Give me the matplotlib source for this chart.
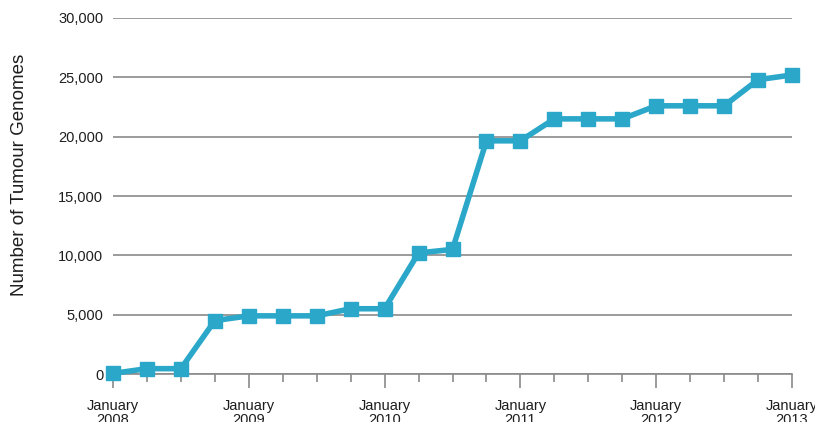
import matplotlib
matplotlib.use("Agg")
import matplotlib.pyplot as plt
import numpy as np

# quarterly counts of tumour genomes, Jan 2008 - Jan 2013
quarters = [2008 + i * 0.25 for i in range(21)]
genomes = [50, 450, 450, 4500, 4900, 4900, 4900, 5500, 5500, 10200, 10500,
           19650, 19650, 21500, 21500, 21500, 22600, 22600, 22600, 24800, 25200]
years = [2008, 2009, 2010, 2011, 2012, 2013]
ylabels = ["0", "5,000", "10,000", "15,000", "20,000", "25,000", "30,000"]

plt.rcParams['font.family'] = ['Liberation Sans', 'DejaVu Sans']

fig = plt.figure(figsize=(8.15, 4.22), dpi=100)
ax = fig.add_axes([113 / 815, 1 - 374 / 422, (792 - 113) / 815, (374 - 18) / 422])

grey = "#8a8a8a"
blue = "#2aa7c9"
txt = "#1e1e1e"

ax.plot(quarters, genomes, color=blue, lw=4, marker="s", markersize=10,
        clip_on=False, zorder=3)

ax.set_xlim(2008, 2013)
ax.set_ylim(0, 30000)
ax.set_yticks(range(0, 30001, 5000))
ax.set_yticklabels(ylabels, fontsize=10.5, color=txt)
ax.yaxis.grid(True, color=grey, lw=1.2)
ax.set_axisbelow(True)
ax.tick_params(axis="y", length=0, pad=7)

ax.set_xticks(years)
ax.set_xticklabels(["January\n%d" % y for y in years], fontsize=10.5,
                   color=txt, linespacing=1.0)
ax.set_xticks(quarters, minor=True)
ax.tick_params(axis="x", which="major", length=10, width=1.2, color=grey, pad=8)
ax.tick_params(axis="x", which="minor", length=6, width=1.2, color=grey)

for s in ["top", "right", "left"]:
    ax.spines[s].set_visible(False)
ax.spines["bottom"].set_color(grey)
ax.spines["bottom"].set_linewidth(1.2)

ax.set_ylabel("Number of Tumour Genomes", fontsize=13.5, color=txt)
ax.yaxis.set_label_coords(-0.125, 0.56)

fig.savefig("out.png", dpi=100)
